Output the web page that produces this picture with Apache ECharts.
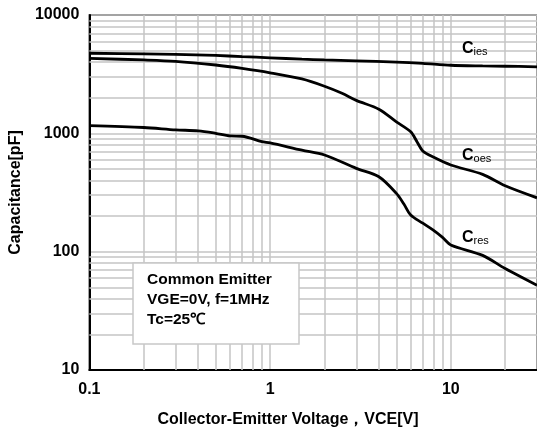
<!DOCTYPE html>
<html>
<head>
<meta charset="utf-8">
<script src="https://cdn.jsdelivr.net/npm/echarts@6/dist/echarts.min.js"></script>
<style>
  html, body { margin: 0; padding: 0; background: #fff; }
  #chart { width: 537px; height: 432px; }
</style>
</head>
<body>
<div id="chart"></div>
<script>
// VCE [V] vs capacitance [pF]
const ciesX = [0.1, 0.2, 0.3, 0.5, 0.7, 1, 1.5, 2, 3, 5, 7, 10, 15, 20, 30]
const ciesY = [4750, 4700, 4650, 4550, 4450, 4350, 4230, 4170, 4100, 4000, 3900, 3760, 3710, 3690, 3650]

const coesX = [0.1, 0.2, 0.3, 0.5, 0.7, 1, 1.5, 2, 2.5, 3, 4, 5, 6, 6.5, 7, 8, 10, 15, 20, 30]
const coesY = [4300, 4170, 4060, 3780, 3540, 3250, 2880, 2500, 2180, 1900, 1600, 1250, 1030, 850, 710, 630, 540, 450, 360, 285]

const cresX = [0.1, 0.2, 0.3, 0.4, 0.5, 0.6, 0.7, 0.9, 1, 1.5, 2, 3, 4, 5, 5.5, 6, 7, 8, 9, 10, 15, 20, 30]
const cresY = [1160, 1120, 1070, 1050, 1000, 950, 945, 850, 830, 720, 656, 506, 430, 311, 253, 204, 174, 152, 132, 114, 93, 72, 52]

// minor grid positions (log paper)
const xMinor = [0.2, 0.3, 0.4, 0.5, 0.6, 0.7, 0.8, 0.9, 2, 3, 4, 5, 6, 7, 8, 9, 20]
const yMinor = [20, 30, 40, 50, 60, 70, 80, 90, 200, 300, 400, 500, 600, 700, 800, 900,
  2000, 3000, 4000, 5000, 6000, 7000, 8000, 9000]

const noteLines = ['Common Emitter', 'VGE=0V, f=1MHz', 'Tc=25℃']

const font = '"Liberation Sans", Arial, sans-serif'
const gridColor = '#c4c4c4'

function pairs(xs, ys) {
  return xs.map((x, i) => [x, ys[i]])
}

function curve(name, xs, ys) {
  return {
    name: name,
    type: 'line',
    data: pairs(xs, ys),
    smooth: 0.3,
    showSymbol: false,
    z: 3,
    lineStyle: { color: '#000', width: 2.8 }
  }
}

function subLabel(sub, y) {
  return {
    type: 'text',
    x: 462,
    y: y,
    z: 11,
    style: {
      text: '{c|C}{s|' + sub + '}',
      rich: {
        c: { font: 'bold 16px ' + font, fill: '#000' },
        s: { font: '11px ' + font, fill: '#000', padding: [6, 0, 0, 0] }
      }
    }
  }
}

const chart = echarts.init(document.getElementById('chart'))

chart.setOption({
  animation: false,
  grid: {
    left: 88,
    top: 15,
    right: -4,
    bottom: 62,
    show: true,
    borderColor: '#000',
    borderWidth: 1.5
  },
  xAxis: {
    type: 'log',
    logBase: 10,
    min: 0.1,
    max: 30,
    axisLine: { lineStyle: { color: '#000', width: 2 } },
    axisTick: { show: false },
    axisLabel: {
      color: '#000',
      fontFamily: font,
      fontWeight: 'bold',
      fontSize: 16,
      margin: 12,
      showMaxLabel: false,
      formatter: v => String(v)
    },
    splitLine: { show: true, lineStyle: { color: gridColor, width: 1.5 } }
  },
  yAxis: {
    type: 'log',
    logBase: 10,
    min: 10,
    max: 10000,
    name: 'Capacitance[pF]',
    nameLocation: 'middle',
    nameGap: 58,
    nameTextStyle: { color: '#000', fontFamily: font, fontWeight: 'bold', fontSize: 16 },
    axisLine: { lineStyle: { color: '#000', width: 2 } },
    axisTick: { show: false },
    axisLabel: {
      color: '#000',
      fontFamily: font,
      fontWeight: 'bold',
      fontSize: 16,
      margin: 10,
      formatter: v => String(v)
    },
    splitLine: { show: true, lineStyle: { color: gridColor, width: 1.5 } }
  },
  series: [
    {
      name: 'grid',
      type: 'line',
      data: [],
      z: 1,
      markLine: {
        silent: true,
        z: 1,
        symbol: 'none',
        label: { show: false },
        lineStyle: { color: gridColor, width: 1.5, type: 'solid' },
        data: xMinor.map(v => ({ xAxis: v })).concat(yMinor.map(v => ({ yAxis: v })))
      }
    },
    curve('Cies', ciesX, ciesY),
    curve('Coes', coesX, coesY),
    curve('Cres', cresX, cresY)
  ],
  graphic: [
    {
      type: 'rect',
      shape: { x: 133, y: 263, width: 166, height: 81 },
      style: { fill: '#fff', stroke: '#c8c8c8', lineWidth: 1.5 },
      z: 10
    },
    {
      type: 'text',
      x: 147,
      y: 270,
      z: 11,
      style: {
        text: noteLines.join('\n'),
        fill: '#000',
        font: 'bold 15.5px ' + font,
        lineHeight: 20
      }
    },
    subLabel('ies', 40),
    subLabel('oes', 147),
    subLabel('res', 229),
    {
      type: 'text',
      x: 288,
      y: 420,
      style: {
        text: 'Collector-Emitter Voltage，VCE[V]',
        fill: '#000',
        font: 'bold 16px ' + font,
        align: 'center',
        verticalAlign: 'middle'
      }
    }
  ]
})
</script>
</body>
</html>
